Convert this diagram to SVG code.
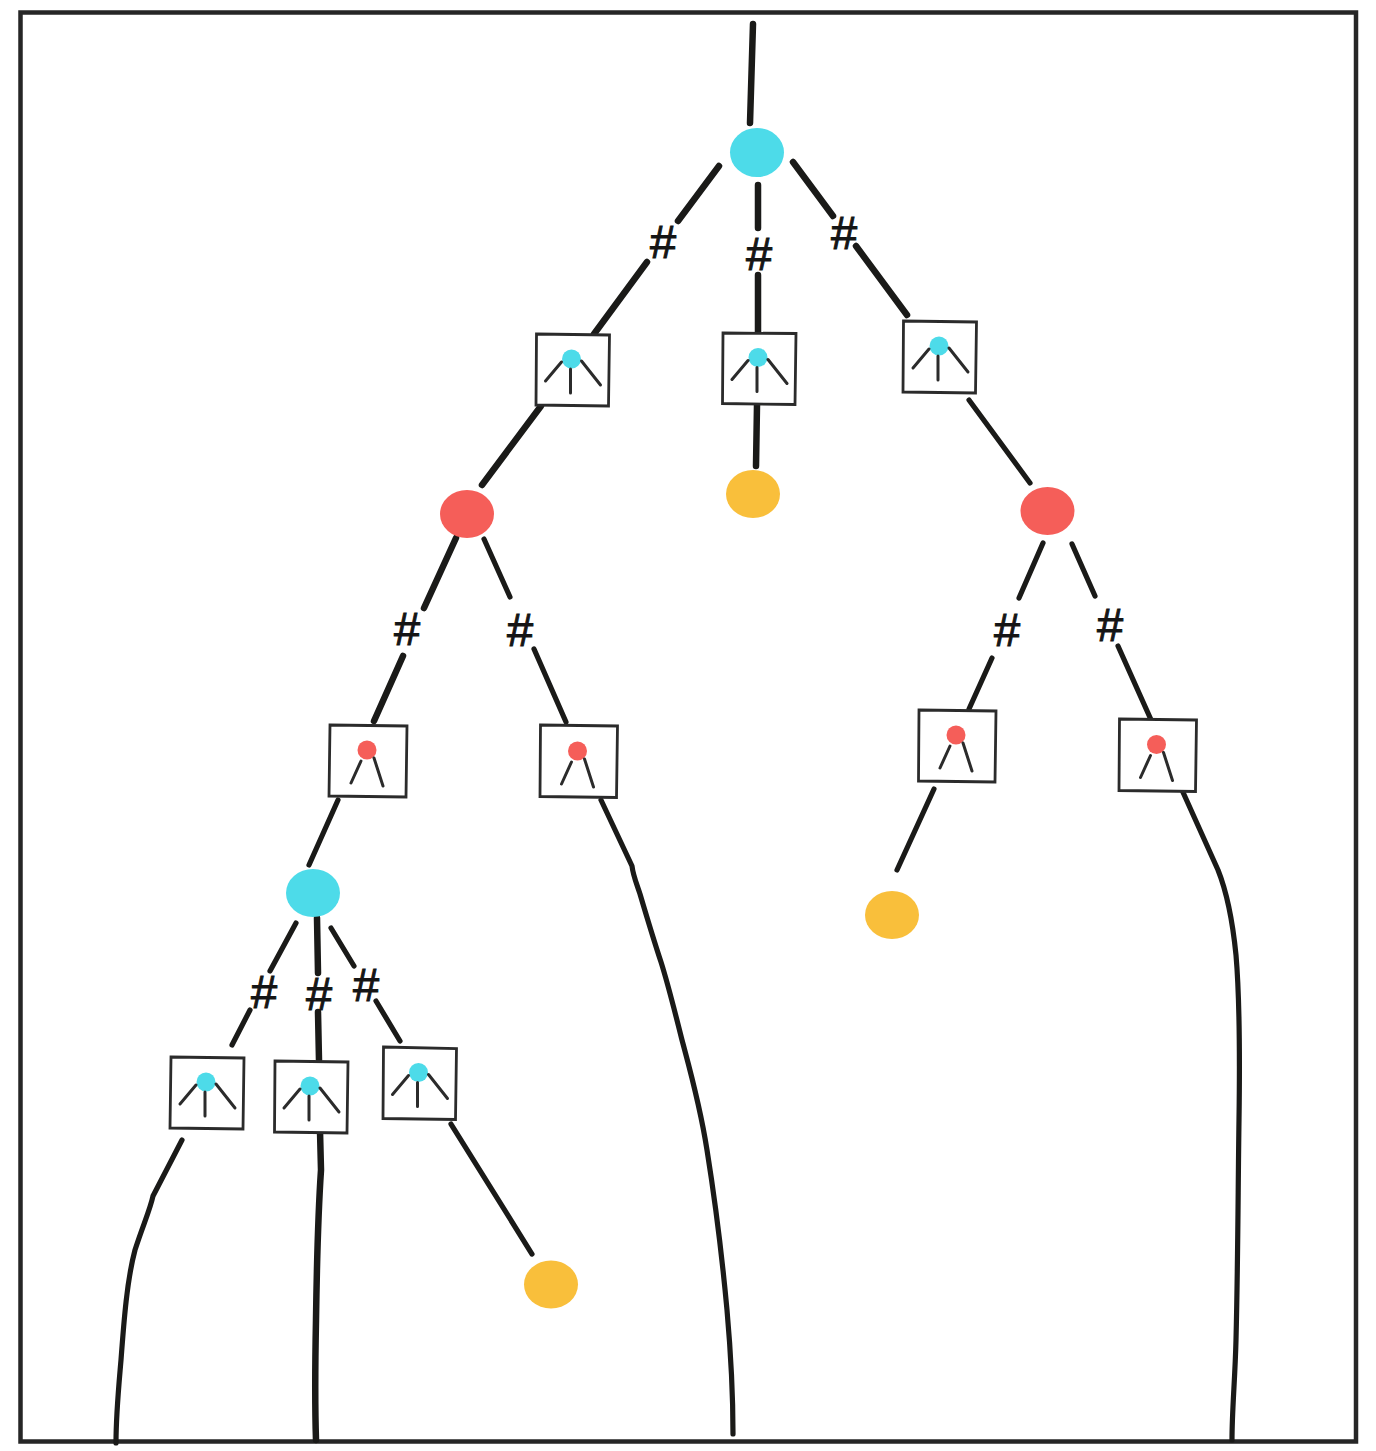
<svg xmlns="http://www.w3.org/2000/svg" width="1376" height="1451" viewBox="0 0 1376 1451">
<style>
.c{fill:none;stroke:#1a1a18;stroke-width:6.500;stroke-linecap:round;stroke-linejoin:round}
.t{stroke-width:5.200}
.box{fill:#fff;stroke:#2b2b2b;stroke-width:2.800}
.i{fill:none;stroke:#2b2b2b;stroke-width:3;stroke-linecap:round}
.h{font-family:"Liberation Sans",Arial,sans-serif;font-size:47px;fill:#151515;stroke:#151515;stroke-width:1;text-anchor:middle}
.b{fill:#4ddbe9}.r{fill:#f55e59}.y{fill:#f9bf3b}
</style>
<defs>
<g id="ib"><circle cx="0" cy="0" r="9.500" class="b"/><path class="i" d="M-10 3L-26 22M-1 10V34M10 2L29 26"/></g>
<g id="ir"><circle cx="0" cy="0" r="9.500" class="r"/><path class="i" d="M-6 11L-16 33M7 8L16 36"/></g>
</defs>
<rect x="20.500" y="12.500" width="1335.500" height="1429" fill="#fff" stroke="#262626" stroke-width="4.500"/>
<g id="connectors">
<path class="c" d="M753 24L750 123"/>
<path class="c" d="M719 166L678 221M647 262L594 334"/>
<path class="c" d="M758 185V228M758 275V333"/>
<path class="c" d="M793 162L833 216M856 246L907 315"/>
<path class="c" d="M541 406L482 485"/>
<path class="c" d="M757 405L756 466"/>
<path class="c t" d="M969 400L1030 483"/>
<path class="c" d="M456 538L424 608M403 656L374 721"/>
<path class="c t" d="M484 539L510 597M534 649L566 722"/>
<path class="c t" d="M1043 543L1019 598M992 658L969 709"/>
<path class="c t" d="M1072 544L1095 596M1118 646L1152 722"/>
<path class="c t" d="M338 800L309 865"/>
<path class="c t" d="M601 800L632 866C633 875 636 882 640 894C648 921 655 944 661 962C668 984 674 1008 682 1040C690 1070 700 1105 707 1150C715 1200 721 1245 727 1310C731 1355 733 1395 733 1434"/>
<path class="c t" d="M934 789L897 870"/>
<path class="c t" d="M1182 790L1218 870C1226 890 1232 915 1236 955C1239 990 1240 1050 1239 1120C1238 1190 1238 1260 1236 1340C1235 1380 1232 1410 1232 1440"/>
<path class="c t" d="M296 923L270 971M250 1010L232 1045"/>
<path class="c" d="M317 918L318 973M318 1012L319 1060"/>
<path class="c t" d="M331 928L354 966M376 1001L400 1041"/>
<path class="c t" d="M182 1140L153 1196C150 1210 143 1225 135 1250C127 1280 124 1320 121 1360C118 1395 116 1415 116 1443"/>
<path class="c" d="M320 1131L321 1170C319 1200 317 1250 316 1320C315 1370 315 1410 316 1440"/>
<path class="c t" d="M451 1124L532 1254"/>
</g>
<g id="n1"><ellipse cx="757" cy="152.500" rx="27" ry="24.500" class="b"/></g>
<g id="n2"><path class="box" d="M536.500 334L609.500 335L608.500 406L536 405Z"/><use href="#ib" x="571.500" y="359"/></g>
<g id="n3"><path class="box" d="M723 333L796 333.500L795 404.500L722.500 403.500Z"/><use href="#ib" x="758" y="357.500"/></g>
<g id="n4"><path class="box" d="M903.500 321L976.500 322L975.500 393L903 392Z"/><use href="#ib" x="939" y="346"/></g>
<g id="n5"><ellipse cx="467" cy="514" rx="27" ry="24" class="r"/></g>
<g id="n6"><ellipse cx="753" cy="494" rx="27" ry="24" class="y"/></g>
<g id="n7"><ellipse cx="1047.500" cy="511" rx="27" ry="24" class="r"/></g>
<g id="n8"><path class="box" d="M330 725L407 726L406 797L329 796Z"/><use href="#ir" x="367" y="750"/></g>
<g id="n9"><path class="box" d="M540.500 725L617.500 726L616.500 797.500L540 796.500Z"/><use href="#ir" x="577.500" y="751"/></g>
<g id="n10"><path class="box" d="M919 710L996 711L995 782L918.500 781Z"/><use href="#ir" x="956" y="735"/></g>
<g id="n11"><path class="box" d="M1119.500 719L1196.500 720L1195.500 791.500L1119 790.500Z"/><use href="#ir" x="1156.500" y="744.500"/></g>
<g id="n12"><ellipse cx="313" cy="893" rx="27" ry="24" class="b"/></g>
<g id="n13"><ellipse cx="892" cy="915" rx="27" ry="24" class="y"/></g>
<g id="n14"><path class="box" d="M171 1057L244 1058L243 1129L170 1128Z"/><use href="#ib" x="206" y="1082"/></g>
<g id="n15"><path class="box" d="M275 1061L348 1062L347 1133L274.500 1132Z"/><use href="#ib" x="310" y="1086"/></g>
<g id="n16"><path class="box" d="M383.500 1047L456.500 1048.500L455.500 1119.500L383 1118.500Z"/><use href="#ib" x="418.500" y="1072.500"/></g>
<g id="n17"><ellipse cx="551" cy="1284.500" rx="27" ry="24" class="y"/></g>
<g id="labels">
<text class="h" x="663" y="258">#</text>
<text class="h" x="759" y="270">#</text>
<text class="h" x="844" y="249">#</text>
<text class="h" x="407" y="645">#</text>
<text class="h" x="520" y="646">#</text>
<text class="h" x="1007" y="646">#</text>
<text class="h" x="1110" y="641">#</text>
<text class="h" x="264" y="1008">#</text>
<text class="h" x="319" y="1010">#</text>
<text class="h" x="366" y="1001">#</text>
</g>
</svg>
